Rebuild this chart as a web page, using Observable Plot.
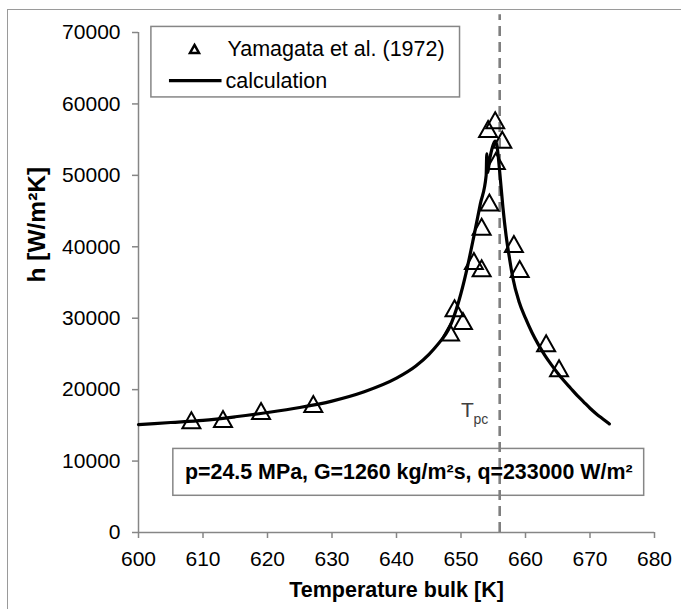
<!DOCTYPE html>
<html>
<head>
<meta charset="utf-8">
<script src="https://cdn.jsdelivr.net/npm/d3@7"></script>
<script src="https://cdn.jsdelivr.net/npm/@observablehq/plot@0.6"></script>
<style>
  html, body { margin: 0; padding: 0; background: #fff; }
  #wrap { position: relative; width: 681px; height: 609px; overflow: hidden; }
  #border { position: absolute; left: 7px; top: 9px; width: 800px; height: 800px;
            border-left: 1.5px solid #9a9a9a; border-top: 1.5px solid #9a9a9a; pointer-events: none; }
</style>
</head>
<body>
<div id="wrap"><div id="border"></div></div>
<script>
// ---- data ----
const xTicks = [600, 610, 620, 630, 640, 650, 660, 670, 680];
const yTicks = [0, 10000, 20000, 30000, 40000, 50000, 60000, 70000];

// Yamagata et al. (1972) experimental points
const expT = [608.2, 613.1, 619.0, 627.1, 648.3, 649.0, 650.3, 652.0, 653.2, 653.2, 654.4, 654.2, 655.3, 656.4, 655.4, 658.2, 659.1, 663.2, 665.2];
const expH = [15700, 15900, 17000, 18000, 28000, 31400, 29600, 38000, 42800, 37000, 46200, 56500, 57700, 55000, 52000, 40400, 36900, 26500, 23000];

// calculation curve
const calcT = [600, 605, 610, 615, 620, 625, 630, 635, 640, 643, 645, 646, 647, 648, 649, 650, 651, 652, 653, 653.9, 654.0, 654.1, 654.5, 655.0, 655.3, 655.6, 656.0, 656.5, 657.0, 657.5, 658, 659, 660, 661, 662, 663, 664, 665, 666, 667, 668, 669, 670, 671, 672, 673];
const calcH = [15100, 15400, 15700, 16200, 16800, 17500, 18400, 19700, 21600, 23300, 24900, 25900, 27000, 28300, 30500, 33500, 37200, 41500, 46000, 50000, 53000, 50400, 52500, 54300, 54800, 54000, 50500, 45500, 41500, 38500, 35800, 32300, 30000, 28000, 26300, 24800, 23500, 22300, 21200, 20200, 19200, 18300, 17400, 16600, 15900, 15200];

const Tpc = 656;

const seriesNames = ["Yamagata et al. (1972)", "calculation"];
const xTitle = "Temperature bulk [K]";
const yTitle = "h [W/m²K]";
const annotation = "p=24.5 MPa, G=1260 kg/m²s, q=233000 W/m²";

// ---- tables built from the arrays ----
const expData = expT.map((t, i) => ({T: t, h: expH[i]}));
const calcData = calcT.map((t, i) => ({T: t, h: calcH[i]}));

// ---- layout (data units of the chart) ----
const legendBox = {x1: 602.0, x2: 649.85, y1: 60910, y2: 70780};
const legendRow1 = {T: 608.68, h: 67700, textT: 613.8};
const legendRow2 = {T1: 604.8, T2: 612.95, h: 63250, textT: 613.5};
const noteBox = {x1: 605.4, x2: 678.4, y1: 5140, y2: 11700, cx: 641.9, cy: 8400};
const tpcLabel = {T: 650.0, h: 16140, subT: 651.95, subH: 15260};
const tpcTop = 72500;

const triangle = (w, h) => ({
  draw(ctx) {
    ctx.moveTo(0, -h / 2);
    ctx.lineTo(w / 2, h / 2);
    ctx.lineTo(-w / 2, h / 2);
    ctx.closePath();
  }
});

const grey = "#868686";

const chart = Plot.plot({
  width: 681,
  height: 609,
  marginLeft: 138,
  marginRight: 27,
  marginTop: 32,
  marginBottom: 77,
  style: {fontFamily: "'Liberation Sans', Arial, sans-serif", fontSize: "21px", overflow: "visible", background: "transparent"},
  x: {domain: [600, 680]},
  y: {domain: [0, 70000]},
  marks: [
    // axes
    Plot.axisY({ticks: yTicks, tickSize: 6, tickPadding: 12, tickFormat: d => String(d), stroke: grey, strokeWidth: 1.5, fill: "black", fontSize: 21, label: null}),
    Plot.axisX({ticks: xTicks, tickSize: 6, tickPadding: 13, tickFormat: d => String(d), stroke: grey, strokeWidth: 1.5, fill: "black", fontSize: 21, label: null}),
    Plot.ruleX([600], {y1: 0, y2: 70000, stroke: grey, strokeWidth: 1.5}),
    Plot.ruleY([0], {x1: 600, x2: 680, stroke: grey, strokeWidth: 1.5}),
    // axis titles
    Plot.text([xTitle], {frameAnchor: "bottom", dy: 58, text: d => d, fontWeight: "bold", fontSize: 21.5, fill: "black", lineAnchor: "middle"}),
    Plot.text([yTitle], {frameAnchor: "left", dx: -101, rotate: -90, text: d => d, fontWeight: "bold", fontSize: 24.5, fill: "black", lineAnchor: "middle"}),
    // annotation box
    Plot.rect([noteBox], {x1: "x1", x2: "x2", y1: "y1", y2: "y2", fill: "white", stroke: grey, strokeWidth: 1.5}),
    // Tpc dashed line
    Plot.ruleX([Tpc], {y1: 0, y2: tpcTop, stroke: "#7f7f7f", strokeWidth: 2.6, strokeDasharray: "10,6"}),
    Plot.text([annotation], {x: noteBox.cx, y: noteBox.cy, text: d => d, fontWeight: "bold", fontSize: 21.4, fill: "black", lineAnchor: "middle"}),
    Plot.text(["T"], {x: tpcLabel.T, y: tpcLabel.h, text: d => d, textAnchor: "start", lineAnchor: "bottom", fontSize: 21, fill: "#404040"}),
    Plot.text(["pc"], {x: tpcLabel.subT, y: tpcLabel.subH, text: d => d, textAnchor: "start", lineAnchor: "bottom", fontSize: 14, fill: "#404040"}),
    // data
    Plot.dot(expData, {x: "T", y: "h", symbol: triangle(18, 16), r: 8, stroke: "black", strokeWidth: 2, fill: "none"}),
    Plot.line(calcData, {x: "T", y: "h", stroke: "black", strokeWidth: 3.2, curve: "monotone-x", strokeLinejoin: "round", strokeLinecap: "round"}),
    // legend
    Plot.rect([legendBox], {x1: "x1", x2: "x2", y1: "y1", y2: "y2", fill: "white", stroke: grey, strokeWidth: 1.5}),
    Plot.dot([legendRow1], {x: "T", y: "h", symbol: triangle(9, 8), r: 4, stroke: "black", strokeWidth: 2.5, fill: "none"}),
    Plot.text([seriesNames[0]], {x: legendRow1.textT, y: legendRow1.h, text: d => d, textAnchor: "start", lineAnchor: "middle", fontSize: 21.5, fill: "black"}),
    Plot.ruleY([legendRow2.h], {x1: legendRow2.T1, x2: legendRow2.T2, stroke: "black", strokeWidth: 3.2}),
    Plot.text([seriesNames[1]], {x: legendRow2.textT, y: legendRow2.h, text: d => d, textAnchor: "start", lineAnchor: "middle", fontSize: 21.5, fill: "black"})
  ]
});

document.getElementById("wrap").insertBefore(chart, document.getElementById("border"));
</script>
</body>
</html>
